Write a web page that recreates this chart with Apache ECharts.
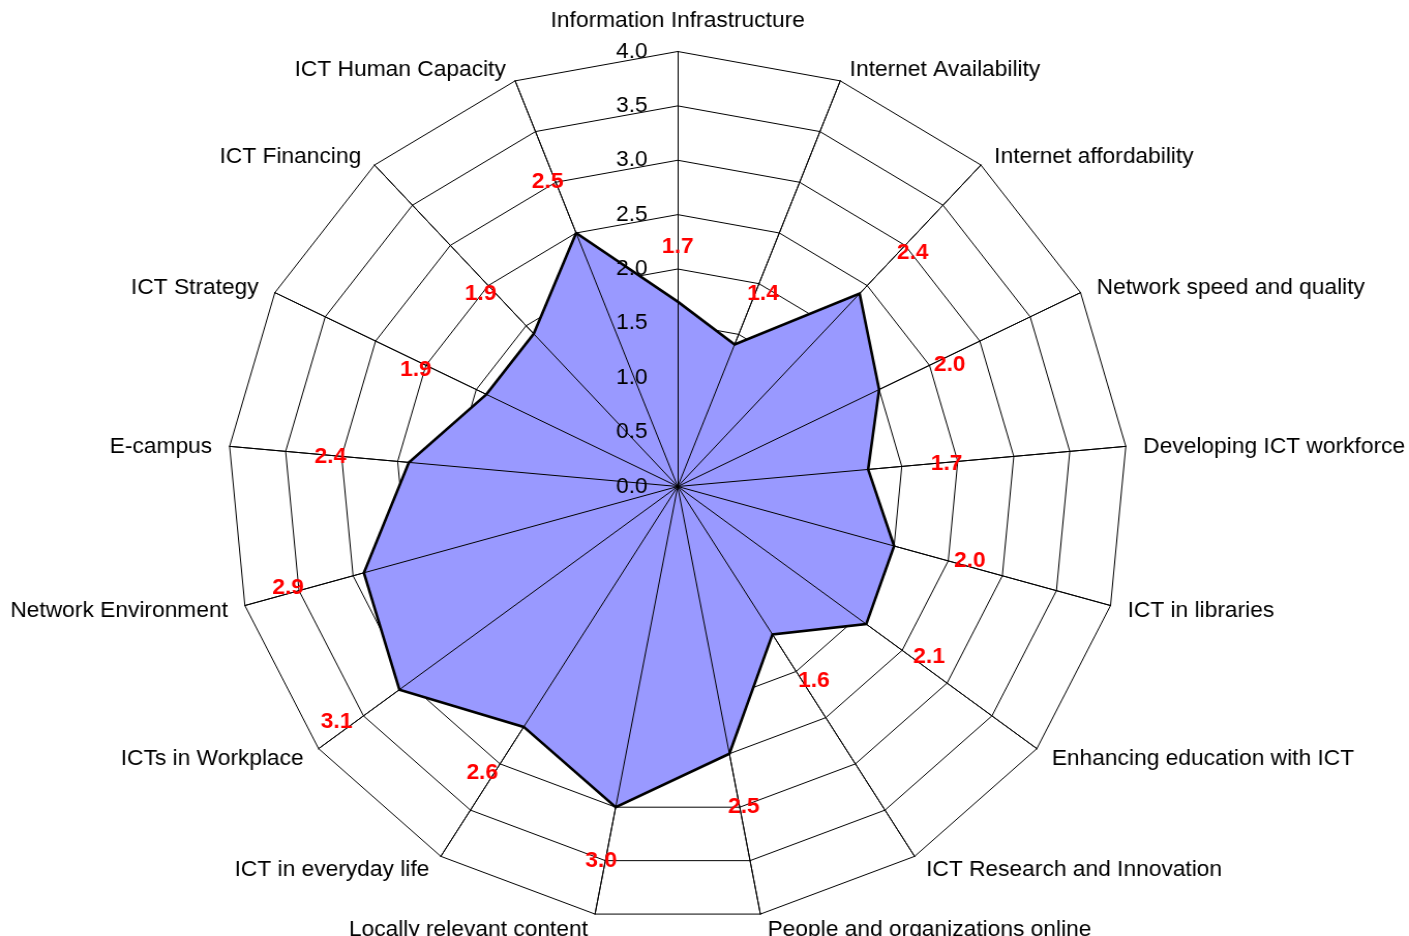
<!DOCTYPE html>
<html>
<head>
<meta charset="utf-8">
<script src="https://cdn.jsdelivr.net/npm/echarts@6/dist/echarts.min.js"></script>
<style>
html,body{margin:0;padding:0;background:#ffffff;overflow:hidden;}
#wrap{width:1409px;height:936px;overflow:hidden;}
/* the original picture is stretched a little wider than tall */
#chart{width:1362px;height:936px;transform:scaleX(1.0345);transform-origin:0 0;}
</style>
</head>
<body>
<div id="wrap"><div id="chart"></div></div>
<script>
// ---- data ----
const categories = [
  'Information Infrastructure', 'Internet Availability', 'Internet affordability',
  'Network speed and quality', 'Developing ICT workforce', 'ICT in libraries',
  'Enhancing education with ICT', 'ICT Research and Innovation',
  'People and organizations online', 'Locally relevant content',
  'ICT in everyday life', 'ICTs in Workplace', 'Network Environment',
  'E-campus', 'ICT Strategy', 'ICT Financing', 'ICT Human Capacity'
];
const scores = [1.7, 1.4, 2.4, 2.0, 1.7, 2.0, 2.1, 1.6, 2.5, 3.0, 2.6, 3.1, 2.9, 2.4, 1.9, 1.9, 2.5];
const tickLabels = ['0.0', '0.5', '1.0', '1.5', '2.0', '2.5', '3.0', '3.5', '4.0'];
const AXIS_MIN = 0;
const AXIS_MAX = 4;
const TICK_STEP = 0.5;

// ---- build ----
const FONT = '"Liberation Sans", Arial, Helvetica, sans-serif';
const n = categories.length;
const angleDeg = i => 360 * i / n;                 // clockwise from top
const angleRad = i => angleDeg(i) * Math.PI / 180;

// ECharts radar runs counter-clockwise: reorder so the picture reads clockwise
const order = [0];
for (let i = n - 1; i >= 1; i--) order.push(i);
const indicators = order.map(i => ({ name: categories[i], min: AXIS_MIN, max: AXIS_MAX }));
const radarValues = order.map(i => scores[i]);

// outline drawn through the polar axes (closed loop)
const outline = scores.map((v, i) => [v, angleDeg(i)]);
outline.push([scores[0], 360]);

// value labels: beside each point, pushed out more sideways than up/down
const LABEL_DX = 0.70, LABEL_DY = 0.50;   // in axis units
const labelPoints = scores.map((v, i) => {
  const th = angleRad(i);
  const x = (v + LABEL_DX) * Math.sin(th);
  const y = (v + LABEL_DY) * Math.cos(th);
  let ang = Math.atan2(x, y) * 180 / Math.PI;
  if (ang < 0) ang += 360;
  return [Math.hypot(x, y), ang, v];
});

// per-name horizontal nudge (style only)
const rich = {};
categories.forEach((c, i) => {
  const h = 4.6 - 1.7 * Math.abs(Math.sin(angleRad(i)));
  rich['n' + i] = { fontSize: 22, fontFamily: FONT, color: '#000000', padding: [0, h, 0, h] };
});

const CENTER = [655.1, 486.5];
const RADIUS = 435;
const SPLITS = Math.round((AXIS_MAX - AXIS_MIN) / TICK_STEP);

const chart = echarts.init(document.getElementById('chart'), null, { renderer: 'canvas' });
chart.setOption({
  animation: false,
  backgroundColor: '#ffffff',
  textStyle: { fontFamily: FONT },
  radar: [
    {
      center: CENTER,
      radius: RADIUS,
      startAngle: 90,
      shape: 'polygon',
      splitNumber: SPLITS,
      indicator: indicators,
      nameGap: 14,
      z: 1,
      axisName: {
        color: '#000000',
        fontSize: 22,
        fontFamily: FONT,
        padding: [10, 0, 6, 0],
        formatter: (name) => '{n' + categories.indexOf(name) + '|' + name + '}',
        rich: rich
      },
      axisLine: { show: true, lineStyle: { color: '#000000', width: 1 } },
      splitLine: { show: true, lineStyle: { color: '#000000', width: 1 } },
      splitArea: { show: false },
      axisTick: { show: false },
      axisLabel: { show: false }
    },
    {
      center: CENTER,
      radius: RADIUS,
      startAngle: 90,
      shape: 'polygon',
      splitNumber: SPLITS,
      indicator: indicators,
      z: 3,
      axisName: { show: false },
      axisLine: { show: true, lineStyle: { color: '#000000', width: 1 } },
      splitLine: { show: false },
      splitArea: { show: false },
      axisTick: { show: false },
      axisLabel: { show: false }
    }
  ],
  polar: { center: CENTER, radius: RADIUS },
  angleAxis: { type: 'value', min: 0, max: 360, startAngle: 90, clockwise: true, show: false },
  radiusAxis: {
    type: 'value',
    min: AXIS_MIN,
    max: AXIS_MAX,
    interval: TICK_STEP,
    z: 5,
    axisLine: { show: false },
    axisTick: { show: false },
    splitLine: { show: false },
    axisLabel: {
      show: true,
      margin: 29,
      fontSize: 22,
      color: '#000000',
      fontFamily: FONT,
      formatter: v => tickLabels[Math.round((v - AXIS_MIN) / TICK_STEP)]
    }
  },
  series: [
    {
      type: 'radar',
      radarIndex: 0,
      z: 2,
      silent: true,
      symbol: 'none',
      lineStyle: { color: '#000000', width: 1 },
      areaStyle: { color: '#9999FF', opacity: 1 },
      data: [{ value: radarValues, name: 'Score' }]
    },
    {
      type: 'line',
      coordinateSystem: 'polar',
      z: 4,
      silent: true,
      symbol: 'none',
      smooth: false,
      lineStyle: { color: '#000000', width: 2.6, join: 'miter' },
      data: outline
    },
    {
      type: 'scatter',
      coordinateSystem: 'polar',
      z: 6,
      silent: true,
      symbolSize: 0,
      itemStyle: { color: 'rgba(0,0,0,0)', opacity: 1 },
      label: {
        show: true,
        position: 'inside',
        color: '#FF0000',
        opacity: 1,
        fontWeight: 'bold',
        fontSize: 22,
        fontFamily: FONT,
        formatter: p => p.value[2].toFixed(1)
      },
      data: labelPoints
    }
  ]
});
</script>
</body>
</html>
